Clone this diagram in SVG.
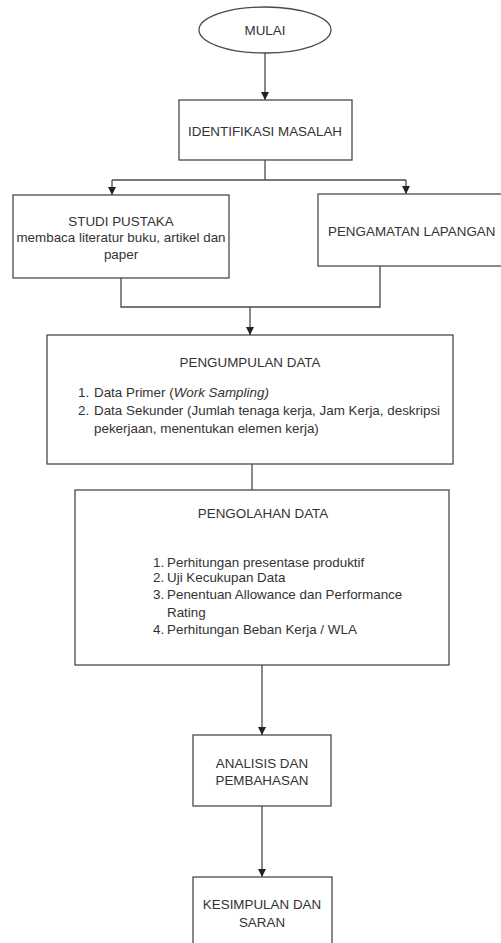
<svg xmlns="http://www.w3.org/2000/svg" width="501" height="943" viewBox="0 0 501 943">
<style>
.box{fill:#fff;stroke:#4a4a4a;stroke-width:1.3}
.t{font-family:"Liberation Sans",Arial,sans-serif;font-size:13.4px;fill:#333}
.c{text-anchor:middle}
.ln{fill:none;stroke:#4a4a4a;stroke-width:1.3}
</style>
<defs>
<marker id="ah" viewBox="0 0 10 10" refX="10" refY="5" markerWidth="8" markerHeight="8" markerUnits="userSpaceOnUse" orient="auto">
<path d="M0,0 L10,5 L0,10 z" fill="#222"/>
</marker>
</defs>
<rect width="501" height="943" fill="#fff"/>
<g id="connectors">
<line class="ln" x1="265" y1="53" x2="265" y2="100" marker-end="url(#ah)"/>
<polyline class="ln" points="265,160 265,180"/>
<line class="ln" x1="112" y1="180" x2="406" y2="180"/>
<line class="ln" x1="112" y1="180" x2="112" y2="195" marker-end="url(#ah)"/>
<line class="ln" x1="406" y1="180" x2="406" y2="194" marker-end="url(#ah)"/>
<polyline class="ln" points="121,278 121,307 380,307 380,266"/>
<line class="ln" x1="250" y1="307" x2="250" y2="335" marker-end="url(#ah)"/>
<line class="ln" x1="252" y1="464" x2="252" y2="490"/>
<line class="ln" x1="262" y1="665" x2="262" y2="735" marker-end="url(#ah)"/>
<line class="ln" x1="262" y1="806" x2="262" y2="877" marker-end="url(#ah)"/>
</g>
<g id="mulai">
<ellipse class="box" cx="265" cy="30" rx="66" ry="23"/>
<text class="t c" x="265" y="35">MULAI</text>
</g>
<g id="identifikasi">
<rect class="box" x="179" y="100" width="173" height="60"/>
<text class="t c" x="265" y="136">IDENTIFIKASI MASALAH</text>
</g>
<g id="studi">
<rect class="box" x="13" y="195" width="216" height="83"/>
<text class="t c" x="121" y="226">STUDI PUSTAKA</text>
<text class="t c" x="121" y="242">membaca literatur buku, artikel dan</text>
<text class="t c" x="121" y="259">paper</text>
</g>
<g id="pengamatan">
<rect class="box" x="318" y="194" width="190" height="72"/>
<text class="t" x="328" y="236">PENGAMATAN LAPANGAN</text>
</g>
<g id="pengumpulan">
<rect class="box" x="47" y="335" width="406" height="129"/>
<text class="t c" x="250" y="367">PENGUMPULAN DATA</text>
<text class="t" x="78" y="397">1.</text>
<text class="t" x="94" y="397">Data Primer (<tspan font-style="italic">Work Sampling)</tspan></text>
<text class="t" x="78" y="415">2.</text>
<text class="t" x="94" y="415">Data Sekunder (Jumlah tenaga kerja, Jam Kerja, deskripsi</text>
<text class="t" x="94" y="433">pekerjaan, menentukan elemen kerja)</text>
</g>
<g id="pengolahan">
<rect class="box" x="75" y="490" width="374" height="175"/>
<text class="t c" x="263" y="518">PENGOLAHAN DATA</text>
<text class="t" x="153" y="567">1.</text>
<text class="t" x="167" y="567">Perhitungan presentase produktif</text>
<text class="t" x="153" y="582">2.</text>
<text class="t" x="167" y="582">Uji Kecukupan Data</text>
<text class="t" x="153" y="599">3.</text>
<text class="t" x="167" y="599">Penentuan Allowance dan Performance</text>
<text class="t" x="167" y="617">Rating</text>
<text class="t" x="153" y="634">4.</text>
<text class="t" x="167" y="634">Perhitungan Beban Kerja / WLA</text>
</g>
<g id="analisis">
<rect class="box" x="193" y="735" width="138" height="71"/>
<text class="t c" x="262" y="768">ANALISIS DAN</text>
<text class="t c" x="262" y="785">PEMBAHASAN</text>
</g>
<g id="kesimpulan">
<rect class="box" x="193" y="877" width="139" height="80"/>
<text class="t c" x="262" y="909">KESIMPULAN DAN</text>
<text class="t c" x="262" y="927">SARAN</text>
</g>
</svg>
